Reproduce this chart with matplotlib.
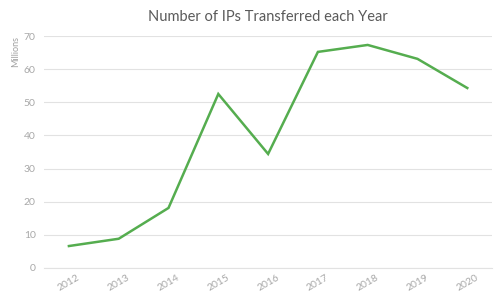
import matplotlib.pyplot as plt

years = ['2012', '2013', '2014', '2015', '2016', '2017', '2018', '2019', '2020']
ips_millions = [6.6, 8.8, 18.1, 52.5, 34.4, 65.2, 67.3, 63.1, 54.3]
y_ticks = [0, 10, 20, 30, 40, 50, 60, 70]

plt.rcParams['font.family'] = ['Lato', 'DejaVu Sans']

fig = plt.figure(figsize=(5.03, 3.0), dpi=100)
ax = fig.add_axes([0.0875, 0.107, 0.891, 0.773])

x = list(range(len(years)))
ax.plot(x, ips_millions, color='#55ad4f', linewidth=1.8, solid_joinstyle='miter')

ax.set_xlim(-0.5, len(years) - 0.5)
ax.set_ylim(0, 70)
ax.set_yticks(y_ticks)
ax.set_xticks(x)
ax.set_xticklabels(years, rotation=30, ha='center')
ax.tick_params(axis='both', length=0, colors='#a8a8a8', labelsize=7.5, pad=6)
ax.tick_params(axis='x', pad=4)
ax.grid(axis='y', color='#e2e2e2', linewidth=0.8)
ax.set_axisbelow(True)
for s in ['top', 'right', 'left']:
    ax.spines[s].set_visible(False)
ax.spines['bottom'].set_color('#e2e2e2')
ax.spines['bottom'].set_linewidth(0.8)

ax.set_title('Number of IPs Transferred each Year', fontsize=10.5, color='#5a5a5a',
             fontweight='normal', pad=11)
fig.text(0.032, 0.88, 'Millions', rotation=90, ha='center', va='top',
         fontsize=6.5, color='#a0a0a0')

fig.savefig('out.png', dpi=100, facecolor='white')
